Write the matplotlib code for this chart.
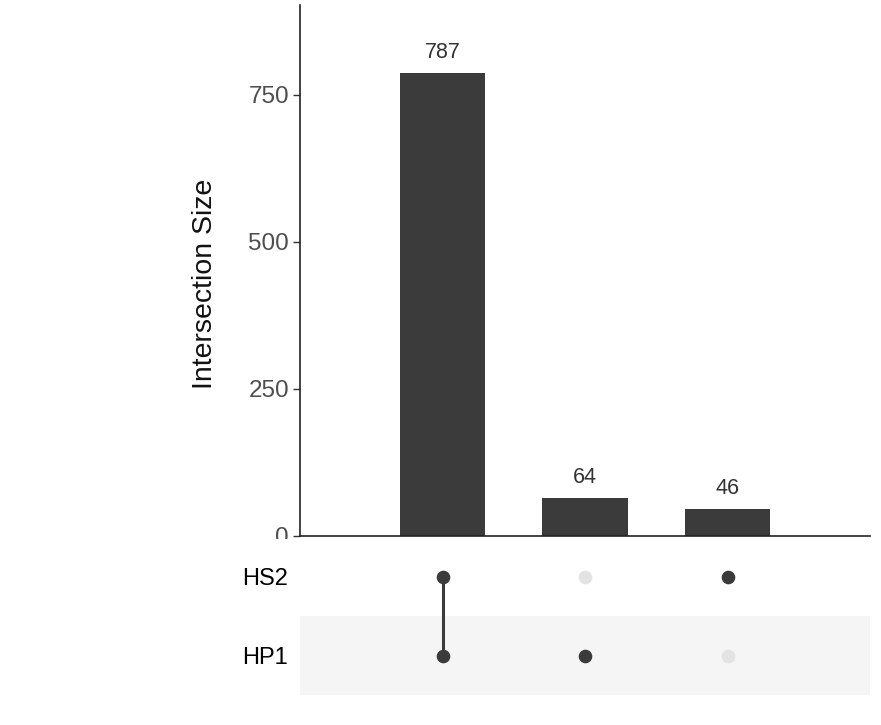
import matplotlib
matplotlib.use("Agg")
import matplotlib.pyplot as plt
from matplotlib.patches import Rectangle

plt.rcParams['font.family'] = ['Liberation Sans', 'DejaVu Sans']

sets = ["HP1", "HS2"]  # bottom to top
intersections = [["HS2", "HP1"], ["HP1"], ["HS2"]]
sizes = [787, 64, 46]
yticks = [0, 250, 500, 750]

W, H = 881, 725
fig = plt.figure(figsize=(W / 100, H / 100), dpi=100)

bar_color = "#3b3b3b"
tick_grey = "#4d4d4d"

# bar axes
axb = fig.add_axes([300 / W, 1 - 536 / H, 570 / W, 531 / H])
xs = list(range(1, len(sizes) + 1))
axb.bar(xs, sizes, width=0.6, color=bar_color)
for x, s in zip(xs, sizes):
    axb.text(x, s + 17, str(s), ha="center", va="bottom", fontsize=15.5, color="#333333")
axb.set_xlim(0, 4)
axb.set_ylim(0, 903)
axb.set_yticks(yticks)
axb.set_yticklabels([str(t) for t in yticks], fontsize=17.5, color=tick_grey)
axb.tick_params(axis="y", length=5, width=1, color="#333333", pad=3)
axb.set_xticks([])
for sp in ["top", "right"]:
    axb.spines[sp].set_visible(False)
axb.spines["left"].set_color("#222222")
axb.spines["bottom"].set_color("#222222")
axb.spines["left"].set_linewidth(1.2)
axb.spines["bottom"].set_linewidth(1.2)
axb.set_ylabel("Intersection Size", fontsize=20.5, color="#111111")
axb.yaxis.set_label_coords(-0.144, 0.475)

# white cover that hides the lower half of the "0" label
fig.patches.append(Rectangle((0, 0), 300 / W, 1 - 539 / H, transform=fig.transFigure,
                             facecolor="white", edgecolor="none", zorder=2))

# matrix axes
axm = fig.add_axes([300 / W, 1 - 695 / H, 570 / W, 158 / H], zorder=3)
axm.set_facecolor("white")
axm.set_xlim(0, 4)
axm.set_ylim(-0.5, 1.5)
axm.axhspan(-0.5, 0.5, color="#f5f5f5", zorder=0, lw=0)
for x, members in zip(xs, intersections):
    rows = [sets.index(m) for m in members]
    if len(rows) > 1:
        axm.plot([x, x], [min(rows), max(rows)], color=bar_color, lw=2.2, zorder=2)
    for r in range(len(sets)):
        c = bar_color if r in rows else "#e3e3e3"
        axm.plot(x, r, "o", color=c, ms=8.8, mec=c, zorder=3)
axm.set_yticks(range(len(sets)))
axm.set_yticklabels(sets, fontsize=17, color="black")
axm.tick_params(axis="y", length=0, pad=9)
axm.set_xticks([])
for sp in axm.spines.values():
    sp.set_visible(False)

fig.savefig("out.png", dpi=100, facecolor="white")
